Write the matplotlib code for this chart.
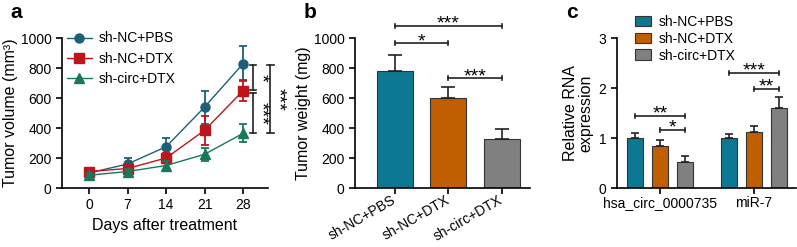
import numpy as np
import matplotlib
matplotlib.use('Agg')
import matplotlib.pyplot as plt
from matplotlib.patches import Patch

plt.rcParams['font.family'] = ['Liberation Sans', 'DejaVu Sans']
plt.rcParams['axes.linewidth'] = 1.2
plt.rcParams['xtick.major.width'] = 1.2
plt.rcParams['ytick.major.width'] = 1.2
plt.rcParams['xtick.major.size'] = 4
plt.rcParams['ytick.major.size'] = 4

groups = ['sh-NC+PBS', 'sh-NC+DTX', 'sh-circ+DTX']

# panel a: tumor volume over time
days = [0, 7, 14, 21, 28]
vol_mean = {
    'sh-NC+PBS': [100, 160, 275, 540, 830],
    'sh-NC+DTX': [110, 130, 200, 385, 650],
    'sh-circ+DTX': [85, 110, 150, 225, 365],
}
vol_err = {
    'sh-NC+PBS': [15, 40, 60, 110, 115],
    'sh-NC+DTX': [15, 20, 35, 95, 70],
    'sh-circ+DTX': [12, 15, 30, 45, 60],
}

# panel b: tumor weight
weight_mean = [780, 598, 324]
weight_err = [107, 73, 67]

# panel c: relative RNA expression
rna_genes = ['hsa_circ_0000735', 'miR-7']
rna_mean = {
    'sh-NC+PBS': [1.0, 1.0],
    'sh-NC+DTX': [0.85, 1.13],
    'sh-circ+DTX': [0.53, 1.61],
}
rna_err = {
    'sh-NC+PBS': [0.10, 0.09],
    'sh-NC+DTX': [0.12, 0.12],
    'sh-circ+DTX': [0.12, 0.22],
}

line_colors = ['#1d5f78', '#c0141d', '#17795a']
markers = ['o', 's', '^']
bar_colors = ['#0d7891', '#c05e02', '#808080']

fig = plt.figure(figsize=(7.97, 2.47), dpi=100)
W, H = 797, 247
STAR = 14


def make_ax(left, right, top=38, bottom=188):
    return fig.add_axes([left / W, 1 - bottom / H, (right - left) / W, (bottom - top) / H])


def bracket(ax, x1, x2, y, text, cap):
    ax.plot([x1, x2], [y, y], color='#222222', lw=1.2, clip_on=False)
    for x in (x1, x2):
        ax.plot([x, x], [y - cap, y + cap], color='#222222', lw=1.2, clip_on=False)
    ax.annotate(text, xy=((x1 + x2) / 2, y), xytext=(0, -5), textcoords='offset points',
                ha='center', va='bottom', fontsize=STAR, annotation_clip=False)


def vbracket(ax, x, y1, y2, text, cap, xt):
    ax.plot([x, x], [y1, y2], color='#222222', lw=1.2, clip_on=False)
    for y in (y1, y2):
        ax.plot([x - cap, x + cap], [y, y], color='#222222', lw=1.2, clip_on=False)
    ax.annotate(text, xy=(xt, (y1 + y2) / 2), xytext=(0, 0), textcoords='offset points',
                rotation=270, ha='center', va='center', fontsize=STAR, annotation_clip=False)


# ---------- a ----------
ax = make_ax(62, 268)
for g, c, m in zip(groups, line_colors, markers):
    ax.errorbar(days, vol_mean[g], yerr=vol_err[g], fmt='none', ecolor=c,
                capsize=3, elinewidth=1.3, capthick=1.3)
    ax.plot(days, vol_mean[g], color=c, marker=m, ms=6.5, lw=1, label=g)
ax.set_xlim(-4.9, 32.5)
ax.set_ylim(0, 1000)
ax.set_xticks(days)
ax.set_yticks([0, 200, 400, 600, 800, 1000])
ax.tick_params(labelsize=10)
ax.set_xlabel('Days after treatment', fontsize=11.5)
ax.set_ylabel('Tumor volume (mm³)', fontsize=11.5, labelpad=2)
for s in ['top', 'right']:
    ax.spines[s].set_visible(False)
ax.legend(loc='upper left', bbox_to_anchor=(-0.01, 1.09), frameon=False, fontsize=10,
          handlelength=1.8, labelspacing=0.45, borderpad=0, handletextpad=0.5)
vbracket(ax, 29.8, 820, 653, '*', 0.6, 31.2)
vbracket(ax, 29.8, 633, 367, '***', 0.6, 31.2)
vbracket(ax, 32.9, 820, 367, '***', 0.6, 34.2)
fig.text(10 / W, 1 - 12 / H, 'a', fontsize=15, fontweight='bold', va='center')

# ---------- b ----------
ax = make_ax(355, 530)
xb = np.arange(len(groups))
ax.bar(xb, weight_mean, width=0.67, color=bar_colors, edgecolor='#333333', lw=0.8)
ax.errorbar(xb, weight_mean, yerr=[np.zeros(3), weight_err], fmt='none', ecolor='#222222',
            elinewidth=1.2, capsize=5, capthick=1.2)
ax.set_xlim(-0.75, 2.53)
ax.set_ylim(0, 1000)
ax.set_yticks([0, 200, 400, 600, 800, 1000])
ax.set_xticks(xb)
ax.set_xticklabels(groups, rotation=30, ha='right', va='center', rotation_mode='anchor',
                   fontsize=10)
ax.tick_params(labelsize=10)
ax.tick_params(axis='x', pad=4)
ax.set_ylabel('Tumor weight (mg)', fontsize=11.5, labelpad=2)
for s in ['top', 'right']:
    ax.spines[s].set_visible(False)
bracket(ax, 0, 2, 1080, '***', 13)
bracket(ax, 0, 1, 965, '*', 13)
bracket(ax, 1, 2, 731, '***', 13)
fig.text(304 / W, 1 - 12 / H, 'b', fontsize=15, fontweight='bold', va='center')

# ---------- c ----------
ax = make_ax(617, 796)
xc = np.arange(len(rna_genes))
off = 0.266
for i, (g, c) in enumerate(zip(groups, bar_colors)):
    xs = xc + (i - 1) * off
    ax.bar(xs, rna_mean[g], width=0.178, color=c, edgecolor='#333333', lw=0.8)
    ax.errorbar(xs, rna_mean[g], yerr=[np.zeros(2), rna_err[g]], fmt='none', ecolor='#222222',
                elinewidth=1.2, capsize=3, capthick=1.2)
ax.set_xlim(-0.457, 1.447)
ax.set_ylim(0, 3)
ax.set_yticks([0, 1, 2, 3])
ax.set_xticks(xc)
ax.set_xticklabels(rna_genes, fontsize=10.5)
ax.tick_params(labelsize=10)
ax.tick_params(axis='x', pad=2)
ax.set_ylabel('Relative RNA\nexpression', fontsize=11.5, labelpad=4, linespacing=1.0)
for s in ['top', 'right']:
    ax.spines[s].set_visible(False)
bracket(ax, -off, off, 1.44, '**', 0.04)
bracket(ax, 0, off, 1.16, '*', 0.04)
bracket(ax, 1 - off, 1 + off, 2.31, '***', 0.04)
bracket(ax, 1, 1 + off, 1.98, '**', 0.04)
handles = [Patch(facecolor=c, edgecolor='#333333', lw=0.8) for c in bar_colors]
ax.legend(handles, groups, loc='upper left', bbox_to_anchor=(0.06, 1.2), frameon=False,
          fontsize=10, handlelength=1.2, handleheight=0.8, labelspacing=0.2, borderpad=0,
          handletextpad=0.5)
fig.text(566 / W, 1 - 12 / H, 'c', fontsize=15, fontweight='bold', va='center')

fig.savefig('out.png', dpi=100)
